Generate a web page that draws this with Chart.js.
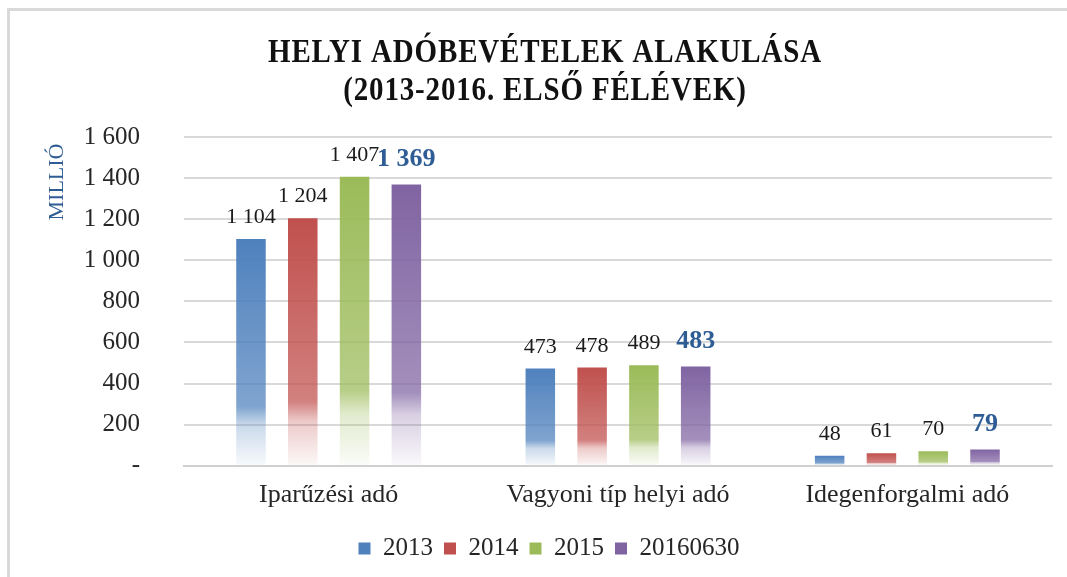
<!DOCTYPE html>
<html>
<head>
<meta charset="utf-8">
<script src="https://cdn.jsdelivr.net/npm/chart.js@4.4.1/dist/chart.umd.min.js"></script>
<style>
    body { margin: 0; background: #fff; }
    #wrap { position: relative; width: 1067px; height: 577px; overflow: hidden; }
    #frame { position: absolute; left: 7px; top: 8px; width: 1080px; height: 590px; border: 3px solid #d9d9d9; box-sizing: border-box; }
    #chart { position: absolute; left: 0; top: 0; }
</style>
</head>
<body>
<div id="wrap">
    <div id="frame"></div>
    <canvas id="chart" width="1067" height="577"></canvas>
</div>
<script>
// Adatok
const categories = ['Iparűzési adó', 'Vagyoni típ helyi adó', 'Idegenforgalmi adó'];
const seriesNames = ['2013', '2014', '2015', '20160630'];
const values2013 = [1104, 473, 48];
const values2014 = [1204, 478, 61];
const values2015 = [1407, 489, 70];
const values2016 = [1369, 483, 79];
const yTicks = [0, 200, 400, 600, 800, 1000, 1200, 1400, 1600];
const titleLines = ['HELYI ADÓBEVÉTELEK ALAKULÁSA', '(2013-2016. ELSŐ FÉLÉVEK)'];
const yTitle = 'MILLIÓ';

const colors = ['#4F81BD', '#C0504D', '#9BBB59', '#8064A2'];
const serif = '"Liberation Serif", "DejaVu Serif", serif';

// szám formázás: 1 104
function fmt(v) {
    return String(v).replace(/\B(?=(\d{3})+(?!\d))/g, ' ');
}

// színátmenet az oszlopokon (alul kifehéredik)
function barFill(color) {
    return function(ctx) {
        const chart = ctx.chart;
        if (!chart.chartArea || ctx.type !== 'data') return color;
        const y = chart.scales.y;
        const top = y.getPixelForValue(ctx.raw);
        const base = y.getPixelForValue(0);
        if (!isFinite(top) || base - top < 1) return color;
        const g = chart.ctx.createLinearGradient(0, top, 0, base);
        g.addColorStop(0, color);
        g.addColorStop(0.74, color + 'b8');
        g.addColorStop(0.82, color + '4d');
        g.addColorStop(1, color + '0a');
        return g;
    };
}

// cím és tengelycím rajzolása
const titlePlugin = {
    id: 'titlePlugin',
    afterDraw(chart) {
        const c = chart.ctx;
        c.save();
        c.fillStyle = '#111';
        c.font = 'bold 34px ' + serif;
        c.letterSpacing = '1px';
        c.textAlign = 'center';
        c.textBaseline = 'alphabetic';
        const w = c.measureText(titleLines[0]).width;
        const sx = 554 / w;
        c.translate(545, 0);
        c.scale(sx, 1);
        c.fillText(titleLines[0], 0, 62);
        c.fillText(titleLines[1], 0, 100);
        c.restore();

        c.save();
        c.fillStyle = '#2E5C94';
        c.font = '22px ' + serif;
        c.textAlign = 'center';
        c.textBaseline = 'middle';
        c.translate(57, 182);
        c.rotate(-Math.PI / 2);
        c.fillText(yTitle, 0, 0);
        c.restore();
    }
};

// értékcímkék az oszlopok fölött
const labelPlugin = {
    id: 'labelPlugin',
    afterDatasetsDraw(chart) {
        const c = chart.ctx;
        c.save();
        c.textAlign = 'center';
        c.textBaseline = 'alphabetic';
        chart.data.datasets.forEach((ds, i) => {
            const meta = chart.getDatasetMeta(i);
            const last = i === chart.data.datasets.length - 1;
            c.font = (last ? 'bold 26px ' : '22px ') + serif;
            c.fillStyle = last ? '#2E5C94' : '#1a1a1a';
            meta.data.forEach((bar, j) => {
                c.fillText(fmt(ds.data[j]), bar.x, bar.y - (last ? 18 : 16));
            });
        });
        c.restore();
    }
};

const allValues = [values2013, values2014, values2015, values2016];

const ctx = document.getElementById('chart').getContext('2d');
const chart = new Chart(ctx, {
    type: 'bar',
    data: {
        labels: categories,
        datasets: seriesNames.map((name, i) => ({
            label: name,
            data: allValues[i],
            backgroundColor: barFill(colors[i]),
            borderWidth: 0,
            categoryPercentage: 0.716,
            barPercentage: 0.57
        }))
    },
    options: {
        responsive: false,
        animation: false,
        layout: { padding: { left: 46, right: 15, top: 137, bottom: 6 } },
        plugins: {
            title: { display: false },
            tooltip: { enabled: false },
            legend: {
                position: 'bottom',
                labels: {
                    boxWidth: 12,
                    boxHeight: 12,
                    padding: 11,
                    color: '#262626',
                    font: { family: serif, size: 25 },
                    generateLabels(chart) {
                        const items = Chart.defaults.plugins.legend.labels.generateLabels(chart);
                        items.forEach((it, i) => { it.fillStyle = colors[i]; it.strokeStyle = colors[i]; it.lineWidth = 0; });
                        return items;
                    }
                }
            }
        },
        scales: {
            x: {
                grid: { display: false, drawTicks: false },
                border: { display: true, color: '#d0d0d0', width: 2 },
                ticks: {
                    padding: 16,
                    color: '#262626',
                    font: { family: serif, size: 26, lineHeight: 1.05 }
                }
            },
            y: {
                min: yTicks[0],
                max: yTicks[yTicks.length - 1],
                afterBuildTicks(scale) {
                    scale.ticks = yTicks.map(v => ({ value: v }));
                },
                afterFit(scale) {
                    scale.width = 138;
                },
                grid: { color: '#d9d9d9', lineWidth: 2, drawTicks: false },
                border: { display: false },
                ticks: {
                    padding: 44,
                    color: '#262626',
                    font: { family: serif, size: 25 },
                    callback: v => v === 0 ? '-' : fmt(v)
                }
            }
        }
    },
    plugins: [titlePlugin, labelPlugin]
});
</script>
</body>
</html>
